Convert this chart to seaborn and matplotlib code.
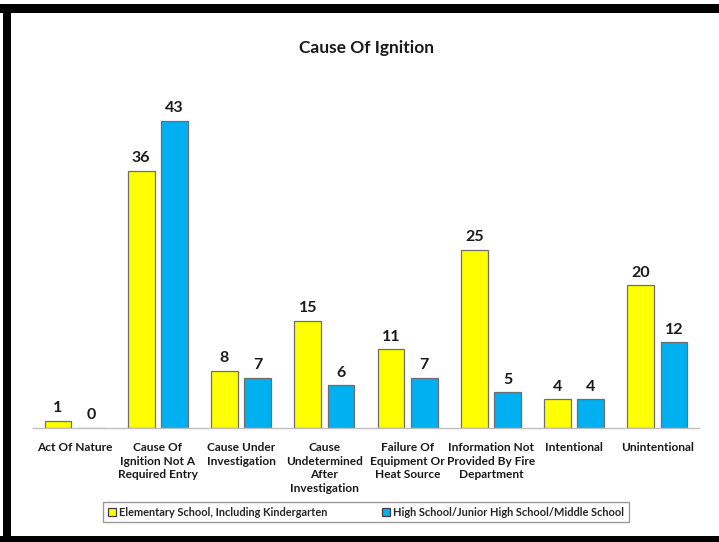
import matplotlib
matplotlib.use("Agg")
import matplotlib.pyplot as plt
import seaborn as sns
import pandas as pd
from matplotlib.patches import Rectangle

categories = ["Act Of Nature", "Cause Of Ignition Not A Required Entry", "Cause Under Investigation",
              "Cause Undetermined After Investigation", "Failure Of Equipment Or Heat Source",
              "Information Not Provided By Fire Department", "Intentional", "Unintentional"]
tick_labels = ["Act Of Nature", "Cause Of\nIgnition Not A\nRequired Entry", "Cause Under\nInvestigation",
               "Cause\nUndetermined\nAfter\nInvestigation", "Failure Of\nEquipment Or\nHeat Source",
               "Information Not\nProvided By Fire\nDepartment", "Intentional", "Unintentional"]
series_names = ["Elementary School, Including Kindergarten", "High School/Junior High School/Middle School"]
elementary = [1, 36, 8, 15, 11, 25, 4, 20]
high_school = [0, 43, 7, 6, 7, 5, 4, 12]
colors = ["#FFFF00", "#00B0F0"]

df = pd.DataFrame({
    "Cause": categories * 2,
    "Series": [series_names[0]] * len(categories) + [series_names[1]] * len(categories),
    "Count": elementary + high_school,
})

sns.set_style("white")
FONT = ["Lato", "DejaVu Sans"]
plt.rcParams["font.family"] = FONT
plt.rcParams["font.weight"] = "bold"

fig = plt.figure(figsize=(7.19, 5.42), dpi=100)
ax = fig.add_axes([33/719, 1 - 428/542, 666/719, 357/542])

sns.barplot(data=df, x="Cause", y="Count", hue="Series", palette=colors, order=categories,
            hue_order=series_names, width=0.8, gap=0.2, edgecolor="#6e6e6e", linewidth=0.9,
            saturation=1, ax=ax, legend=True)

ax.set_ylim(0, 50)
ax.set_xlim(-0.5, len(categories) - 0.5)
ax.set_xlabel("")
ax.set_ylabel("")
ax.set_yticks([])
ax.set_xticks(range(len(categories)))
ax.set_xticklabels(tick_labels, fontsize=8.6, fontweight="bold", color="#1a1a1a", linespacing=1.3)
ax.tick_params(axis="x", length=0, pad=10)
for s in ["top", "right", "left"]:
    ax.spines[s].set_visible(False)
ax.spines["bottom"].set_color("#BFBFBF")
ax.spines["bottom"].set_linewidth(1)

for cont in ax.containers:
    ax.bar_label(cont, fmt="%d", padding=4, fontsize=11.5, fontweight="bold", color="#1a1a1a")

leg = ax.legend(loc="center", bbox_to_anchor=(366/719, 1 - 512/542), bbox_transform=fig.transFigure,
                ncol=2, frameon=True, fancybox=False, handlelength=0.7, handleheight=0.7,
                handletextpad=0.3, columnspacing=5.0, borderpad=0.45, edgecolor="#808080",
                prop={"family": FONT, "weight": "bold", "size": 7.9})
leg.get_frame().set_linewidth(1)
for h in leg.legend_handles:
    h.set_edgecolor("#404040")

fig.text(366/719, 1 - 48/542, "Cause Of Ignition", ha="center", va="center", fontsize=12.5,
         fontweight="bold", color="#1a1a1a")

# outer black frame (cropped)
fig.patches.append(Rectangle((0, 1 - 13/542), 1, 9/542, transform=fig.transFigure,
                             facecolor="black", edgecolor="none", zorder=10))
fig.patches.append(Rectangle((3/719, 0), 8/719, 1 - 4/542, transform=fig.transFigure,
                             facecolor="black", edgecolor="none", zorder=10))
fig.patches.append(Rectangle((0, 0), 1, 6/542, transform=fig.transFigure,
                             facecolor="black", edgecolor="none", zorder=10))

fig.savefig("out.png", dpi=100)
